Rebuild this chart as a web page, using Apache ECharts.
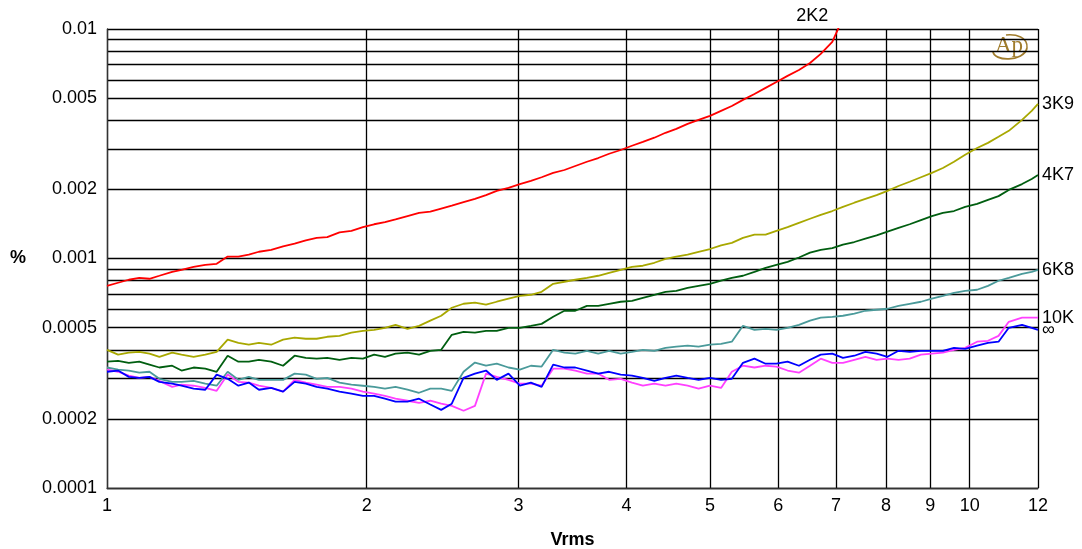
<!DOCTYPE html>
<html><head><meta charset="utf-8">
<script src="https://cdn.jsdelivr.net/npm/echarts@6/dist/echarts.min.js"></script>
<style>html,body{margin:0;padding:0;background:#fff}#c{width:1082px;height:549px}</style>
</head><body><div id="c"></div>
<script>
// Measurement points (Vrms)
const vrms = [1.00,1.03,1.06,1.09,1.12,1.15,1.19,1.22,1.26,1.30,1.34,1.38,1.42,1.46,1.50,1.55,1.60,1.65,1.70,1.75,1.80,1.86,1.92,1.98,2.04,2.10,2.16,2.23,2.30,2.37,2.44,2.51,2.59,2.67,2.75,2.83,2.92,3.01,3.10,3.19,3.29,3.39,3.49,3.60,3.71,3.82,3.94,4.06,4.18,4.31,4.44,4.57,4.71,4.85,5.00,5.15,5.30,5.46,5.63,5.80,5.97,6.15,6.34,6.53,6.72,6.93,7.13,7.35,7.57,7.80,8.03,8.27,8.52,8.78,9.04,9.31,9.59,9.88,10.2,10.5,10.8,11.1,11.5,11.8,12.0];

// THD+N (%) per load
const thd2K2 = [0.000760,0.000784,0.000808,0.000824,0.000816,0.000841,0.000875,0.000893,0.000920,0.000939,
0.000948,0.00102,0.00102,0.00104,0.00107,0.00109,0.00113,0.00116,0.00120,0.00123,
0.00124,0.00130,0.00132,0.00137,0.00141,0.00144,0.00148,0.00153,0.00158,0.00160,
0.00165,0.00170,0.00176,0.00182,0.00189,0.00197,0.00203,0.00211,0.00218,0.00226,
0.00236,0.00243,0.00253,0.00264,0.00274,0.00286,0.00297,0.00310,0.00322,0.00336,
0.00353,0.00367,0.00386,0.00402,0.00418,0.00440,0.00462,0.00491,0.00521,0.00554,
0.00588,0.00625,0.00663,0.00711,0.00779,0.00878,0.01116];
const thd3K9 = [0.000400,0.000381,0.000389,0.000392,0.000385,0.000373,0.000389,0.000381,0.000373,0.000381,
0.000392,0.000443,0.000429,0.000421,0.000429,0.000421,0.000443,0.000452,0.000447,0.000447,
0.000456,0.000460,0.000475,0.000484,0.000489,0.000499,0.000514,0.000494,0.000509,0.000536,
0.000563,0.000610,0.000635,0.000642,0.000629,0.000648,0.000668,0.000688,0.000695,0.000716,
0.000776,0.000792,0.000808,0.000824,0.000841,0.000866,0.000893,0.000920,0.000930,0.000958,
0.000997,0.00102,0.00104,0.00107,0.00110,0.00114,0.00117,0.00123,0.00127,0.00127,
0.00132,0.00137,0.00143,0.00149,0.00155,0.00161,0.00168,0.00175,0.00182,0.00189,
0.00197,0.00207,0.00216,0.00226,0.00236,0.00248,0.00264,0.00283,0.00303,0.00319,
0.00339,0.00360,0.00402,0.00440,0.00472];
const thd4K7 = [0.000355,0.000358,0.000351,0.000355,0.000345,0.000335,0.000341,0.000325,0.000335,0.000331,
0.000321,0.000377,0.000355,0.000355,0.000362,0.000355,0.000341,0.000377,0.000369,0.000366,
0.000369,0.000362,0.000369,0.000366,0.000381,0.000373,0.000385,0.000389,0.000381,0.000396,
0.000400,0.000465,0.000479,0.000475,0.000484,0.000484,0.000499,0.000499,0.000509,0.000519,
0.000557,0.000592,0.000592,0.000622,0.000622,0.000635,0.000648,0.000654,0.000674,0.000695,
0.000716,0.000723,0.000745,0.000760,0.000776,0.000800,0.000824,0.000841,0.000875,0.000911,
0.000939,0.000967,0.00101,0.00106,0.00109,0.00111,0.00115,0.00118,0.00122,0.00126,
0.00131,0.00136,0.00141,0.00147,0.00153,0.00158,0.00161,0.00168,0.00173,0.00180,
0.00187,0.00199,0.00211,0.00222,0.00231];
const thd6K8 = [0.000335,0.000328,0.000325,0.000318,0.000321,0.000299,0.000290,0.000290,0.000293,0.000285,
0.000279,0.000321,0.000296,0.000305,0.000296,0.000296,0.000296,0.000315,0.000312,0.000299,
0.000302,0.000288,0.000282,0.000279,0.000276,0.000271,0.000276,0.000268,0.000260,0.000271,
0.000271,0.000265,0.000321,0.000352,0.000341,0.000348,0.000335,0.000328,0.000341,0.000338,
0.000400,0.000389,0.000385,0.000396,0.000385,0.000396,0.000385,0.000392,0.000400,0.000396,
0.000408,0.000413,0.000417,0.000413,0.000421,0.000425,0.000434,0.000509,0.000489,0.000494,
0.000489,0.000499,0.000514,0.000536,0.000552,0.000557,0.000563,0.000575,0.000592,0.000598,
0.000604,0.000622,0.000635,0.000648,0.000668,0.000688,0.000709,0.000723,0.000731,0.000760,
0.000800,0.000824,0.000858,0.000875,0.000893];
const thd10K = [0.000328,0.000321,0.000309,0.000302,0.000305,0.000293,0.000276,0.000282,0.000279,0.000273,
0.000265,0.000312,0.000290,0.000288,0.000279,0.000273,0.000263,0.000296,0.000288,0.000282,
0.000276,0.000276,0.000271,0.000263,0.000258,0.000252,0.000245,0.000240,0.000235,0.000240,
0.000233,0.000228,0.000217,0.000228,0.000315,0.000305,0.000296,0.000285,0.000285,0.000279,
0.000331,0.000331,0.000325,0.000315,0.000315,0.000296,0.000299,0.000288,0.000279,0.000285,
0.000279,0.000285,0.000279,0.000271,0.000279,0.000273,0.000321,0.000341,0.000335,0.000341,
0.000338,0.000325,0.000318,0.000341,0.000366,0.000351,0.000351,0.000362,0.000373,0.000362,
0.000366,0.000362,0.000366,0.000381,0.000385,0.000389,0.000400,0.000408,0.000434,0.000438,
0.000460,0.000530,0.000552,0.000552,0.000552];
const thdInf = [0.000321,0.000325,0.000305,0.000302,0.000305,0.000290,0.000285,0.000279,0.000271,0.000268,
0.000312,0.000299,0.000279,0.000288,0.000268,0.000273,0.000263,0.000290,0.000285,0.000276,
0.000271,0.000263,0.000258,0.000252,0.000252,0.000245,0.000238,0.000238,0.000245,0.000231,
0.000219,0.000233,0.000302,0.000315,0.000325,0.000296,0.000315,0.000279,0.000288,0.000276,
0.000345,0.000335,0.000335,0.000325,0.000315,0.000321,0.000312,0.000309,0.000302,0.000293,
0.000302,0.000309,0.000302,0.000296,0.000302,0.000296,0.000299,0.000351,0.000366,0.000348,
0.000348,0.000355,0.000341,0.000362,0.000381,0.000385,0.000369,0.000377,0.000392,0.000385,
0.000373,0.000396,0.000392,0.000396,0.000396,0.000396,0.000408,0.000404,0.000417,0.000429,
0.000434,0.000499,0.000514,0.000499,0.000489];

// Axis ticks
const xTicks = [1,2,3,4,5,6,7,8,9,10,12];
const yLabels = [0.0001,0.0002,0.0005,0.001,0.002,0.005,0.01];
const yGrid = [0.0001,0.0002,0.0003,0.0004,0.0005,0.0006,0.0007,0.0008,0.0009,0.001,0.002,0.003,0.004,0.005,0.006,0.007,0.008,0.009,0.01];
const redLabelAt = [7.04, 0.01];

const L = Math.log10;
const pts = ys => ys.map((y, i) => [L(vrms[i]), L(y)]);
const fmt = v => parseFloat(Math.pow(10, v).toPrecision(3)).toString();
const FONT = '"Liberation Sans", Arial, Helvetica, sans-serif';

function line(name, color, ys, withEnd) {
  return {
    type: 'line', name: name, data: pts(ys), symbol: 'none', clip: true,
    lineStyle: { color: color, width: 1.8 }, itemStyle: { color: color },
    endLabel: withEnd ? { show: true, formatter: '{a}', color: '#000', fontSize: 18, fontFamily: FONT, distance: 4 } : { show: false },
    emphasis: { disabled: true }
  };
}

const red = line('2K2', '#ff0000', thd2K2, false);
red.markPoint = {
  symbol: 'circle', symbolSize: 1, itemStyle: { color: 'rgba(0,0,0,0)' },
  label: { show: true, position: 'top', distance: 3, offset: [-26, 0], formatter: '2K2', color: '#000', fontSize: 18, fontFamily: FONT },
  data: [{ coord: [L(redLabelAt[0]), L(redLabelAt[1])] }]
};

const chart = echarts.init(document.getElementById('c'), null, { renderer: 'canvas' });
chart.setOption({
  animation: false,
  backgroundColor: '#fff',
  textStyle: { fontFamily: FONT },
  grid: { left: 107, right: 44, top: 29, bottom: 61, containLabel: false, outerBoundsMode: 'none' },
  xAxis: {
    type: 'value', min: 0, max: L(12),
    name: 'Vrms', nameLocation: 'middle', nameGap: 43,
    nameTextStyle: { fontSize: 18, fontWeight: 'bold', color: '#000', fontFamily: FONT },
    axisLine: { show: true, onZero: false, lineStyle: { color: '#333', width: 1.3 } },
    axisTick: { show: false, customValues: xTicks.map(L) },
    axisLabel: { customValues: xTicks.map(L), formatter: fmt, fontSize: 18, color: '#000', margin: 9, fontFamily: FONT },
    splitLine: { show: true, lineStyle: { color: '#000', width: 1.3 } }
  },
  yAxis: {
    type: 'value', min: -4, max: -2,
    name: '%', nameLocation: 'middle', nameRotate: 0, nameGap: 81,
    nameTextStyle: { fontSize: 18, fontWeight: 'bold', color: '#000', fontFamily: FONT },
    axisLine: { show: true, onZero: false, lineStyle: { color: '#333', width: 1.3 } },
    axisTick: { show: false, customValues: yGrid.map(L) },
    axisLabel: { customValues: yLabels.map(L), formatter: fmt, fontSize: 18, color: '#000', margin: 10, fontFamily: FONT },
    splitLine: { show: true, lineStyle: { color: '#000', width: 1.3 } }
  },
  series: [
    red,
    line('3K9', '#a8a800', thd3K9, true),
    line('4K7', '#005e10', thd4K7, true),
    line('6K8', '#4a9a9a', thd6K8, true),
    line('10K', '#ff40ff', thd10K, true),
    line('∞', '#0000ff', thdInf, true)
  ],
  graphic: [{
    type: 'group', left: 989, top: 32, z: 100,
    children: [
      { type: 'rect', shape: { x: 0, y: 0, width: 41, height: 31 }, style: { fill: '#fff' } },
      { type: 'text', x: 6, y: 2, style: { text: 'Ap', fill: '#a07c2c', font: '23px "Liberation Serif", "DejaVu Serif", serif' } },
      { type: 'bezierCurve', shape: { x1: 4, y1: 19, cpx1: 4, cpy1: 30, cpx2: 35, cpy2: 30, x2: 38, y2: 16 }, style: { stroke: '#a07c2c', lineWidth: 1.8, fill: null } },
      { type: 'bezierCurve', shape: { x1: 38, y1: 16, cpx1: 39, cpy1: 5, cpx2: 27, cpy2: 2, x2: 17, y2: 3 }, style: { stroke: '#a07c2c', lineWidth: 1.5, fill: null } }
    ]
  }]
});
</script>
</body></html>
